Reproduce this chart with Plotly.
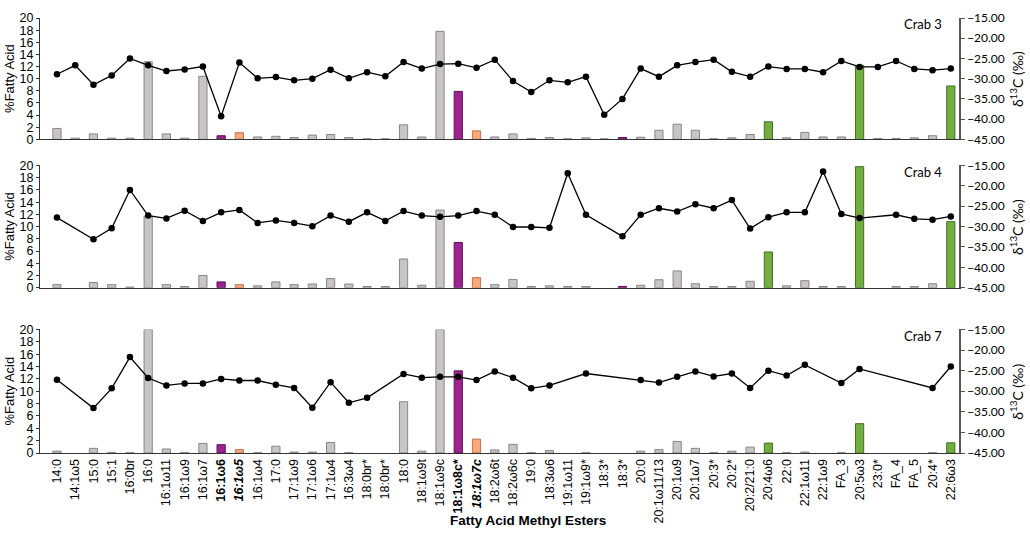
import plotly.graph_objects as go

# 脂肪酸甲酯类别（有重复名称，所以用位置作为 x）
categories = ['14:0', '14:1ω5', '15:0', '15:1', '16:0br', '16:0', '16:1ω11', '16:1ω9',
              '16:1ω7', '16:1ω6', '16:1ω5', '16:1ω4', '17:0', '17:1ω9', '17:1ω6', '17:1ω4',
              '16:3ω4', '18:0br*', '18:0br*', '18:0', '18:1ω9t', '18:1ω9c', '18:1ω8c*',
              '18:1ω7c', '18:2ω6t', '18:2ω6c', '19:0', '18:3ω6', '19:1ω11', '19:1ω9*',
              '18:3*', '18:3*', '20:0', '20:1ω11/13', '20:1ω9', '20:1ω7', '20:3*', '20:2*',
              '20:2/21:0', '20:4ω6', '22:0', '22:1ω11', '22:1ω9', 'FA_3', '20:5ω3', '23:0*',
              'FA_4', 'FA_5', '20:4*', '22:6ω3']

crabs = ['Crab 3', 'Crab 4', 'Crab 7']

# %Fatty Acid
pct_crab3 = [1.8, 0.2, 0.9, 0.2, 0.2, 12.8, 0.9, 0.2, 10.4, 0.6,
             1.1, 0.4, 0.5, 0.3, 0.7, 0.8, 0.3, 0.1, 0.1, 2.4,
             0.4, 17.8, 7.9, 1.4, 0.4, 0.9, 0.15, 0.3, 0.1, 0.25,
             0.1, 0.3, 0.35, 1.5, 2.5, 1.5, 0.1, 0.25, 0.8, 2.9,
             0.25, 1.15, 0.4, 0.4, 12.2, 0.15, 0.15, 0.25, 0.6, 8.8]
pct_crab4 = [0.5, None, 0.85, 0.5, 0.1, 11.7, 0.5, 0.2, 2.0, 0.95,
             0.5, 0.3, 0.95, 0.5, 0.6, 1.5, 0.6, 0.2, 0.2, 4.7,
             0.4, 12.7, 7.4, 1.65, 0.5, 1.35, 0.2, 0.3, 0.2, 0.2,
             None, 0.2, 0.4, 1.3, 2.75, 0.65, 0.2, 0.2, 1.05, 5.85,
             0.3, 1.15, 0.2, 0.2, 19.8, None, 0.2, 0.2, 0.65, 10.8]
pct_crab7 = [0.3, None, 0.75, 0.1, 0.05, 20.0, 0.65, 0.1, 1.55, 1.35,
             0.55, 0.05, 1.1, 0.15, 0.15, 1.7, 0.05, None, None, 8.3,
             0.3, 20.0, 13.3, 2.25, 0.5, 1.4, 0.05, 0.4, None, 0.05,
             None, None, 0.3, 0.55, 1.85, 0.75, 0.05, 0.3, 0.95, 1.6,
             0.05, 0.15, None, 0.05, 4.75, None, None, None, 0.05, 1.65]

# δ13C (‰)
d13c_crab3 = [-28.9, -26.7, -31.5, -29.2, -25.0, -26.7, -28.1, -27.7, -27.0, -39.3,
              -26.0, -29.9, -29.6, -30.4, -30.0, -27.8, -29.9, -28.4, -29.4, -25.9,
              -27.5, -26.4, -26.3, -27.3, -25.3, -30.6, -33.3, -30.4, -30.9, -29.5,
              -38.9, -35.0, -27.5, -29.5, -26.7, -25.9, -25.3, -28.3, -29.5, -27.0,
              -27.6, -27.6, -28.4, -25.6, -27.1, -27.1, -25.6, -27.6, -27.9, -27.5]
d13c_crab4 = [-27.8, None, -33.1, -30.4, -21.0, -27.3, -28.0, -26.1, -28.6, -26.5,
              -25.9, -29.1, -28.5, -29.1, -29.9, -27.3, -28.8, -26.5, -28.6, -26.2,
              -27.3, -27.6, -27.3, -26.2, -27.1, -30.1, -30.1, -30.3, -16.9, -27.1,
              None, -32.4, -27.1, -25.5, -26.3, -24.5, -25.5, -23.5, -30.5, -27.7,
              -26.5, -26.5, -16.5, -26.9, -27.9, None, -27.1, -28.1, -28.3, -27.5]
d13c_crab7 = [-27.2, None, -34.1, -29.3, -21.7, -26.8, -28.6, -28.1, -28.1, -27.0,
              -27.4, -27.4, -28.4, -29.2, -34.0, -27.8, -32.8, -31.6, None, -25.8,
              -26.7, -26.5, -26.5, -27.3, -25.2, -26.7, -29.3, -28.6, None, -25.7,
              None, None, -27.3, -27.9, -26.5, -25.2, -26.4, -25.7, -29.2, -25.0,
              -26.2, -23.6, None, -28.0, -24.6, None, None, None, -29.2, -24.0]

pct_all = [pct_crab3, pct_crab4, pct_crab7]
d13c_all = [d13c_crab3, d13c_crab4, d13c_crab7]

# 柱子颜色：默认灰色，部分脂肪酸高亮
GREY = ('#c9c5c6', '#8a8686')
PURPLE = ('#9d2391', '#5e0f57')
ORANGE = ('#f8a878', '#c07650')
GREEN = ('#72ad40', '#467026')
highlight = {9: PURPLE, 22: PURPLE, 31: PURPLE, 10: ORANGE, 23: ORANGE,
             39: GREEN, 44: GREEN, 49: GREEN}
fills = [highlight.get(i, GREY)[0] for i in range(len(categories))]
edges = [highlight.get(i, GREY)[1] for i in range(len(categories))]

# 刻度文字，部分加粗/斜体
ticktext = []
for i, c in enumerate(categories):
    if i in (9, 22):
        ticktext.append('<b>%s</b>' % c)
    elif i in (10, 23):
        ticktext.append('<b><i>%s</i></b>' % c)
    else:
        ticktext.append(c)

xpos = list(range(len(categories)))
domains = [[0.721, 1.0], [0.380, 0.661], [0.0, 0.284]]

fig = go.Figure()
font_main = 'Liberation Sans, Arial, sans-serif'
font_right = 'Lato, sans-serif'

for k in range(3):
    xa = 'x' if k == 0 else 'x%d' % (k + 1)
    yl = 'y' if k == 0 else 'y%d' % (2 * k + 1)
    yr = 'y%d' % (2 * k + 2)
    fig.add_trace(go.Bar(
        x=xpos, y=pct_all[k], xaxis=xa, yaxis=yl, width=0.45,
        marker=dict(color=fills, line=dict(color=edges, width=1)),
        showlegend=False
    ))
    fig.add_trace(go.Scatter(
        x=xpos, y=d13c_all[k], xaxis=xa, yaxis=yr, mode='lines+markers',
        connectgaps=True,
        line=dict(color='black', width=1.3),
        marker=dict(color='black', size=6.5),
        showlegend=False
    ))

layout = dict(
    width=1030, height=534,
    margin=dict(l=40, r=71, t=10, b=78),
    plot_bgcolor='white', paper_bgcolor='white',
    font=dict(family=font_main, size=13, color='black'),
)

for k in range(3):
    xkey = 'xaxis' if k == 0 else 'xaxis%d' % (k + 1)
    ylkey = 'yaxis' if k == 0 else 'yaxis%d' % (2 * k + 1)
    yrkey = 'yaxis%d' % (2 * k + 2)
    ylname = 'y' if k == 0 else 'y%d' % (2 * k + 1)
    xname = 'x' if k == 0 else 'x%d' % (k + 1)
    last = (k == 2)
    layout[xkey] = dict(
        domain=[0, 1], anchor=ylname, range=[-0.93, 49.45],
        tickmode='array', tickvals=xpos, ticktext=ticktext,
        showticklabels=last, tickangle=-90, tickfont=dict(size=12.5),
        showline=True, linecolor='#333333', linewidth=1.2,
        ticks='', showgrid=False, zeroline=False
    )
    layout[ylkey] = dict(
        domain=domains[k], anchor=xname, range=[0, 20], dtick=2,
        showline=True, linecolor='#333333', linewidth=1.2,
        ticks='outside', ticklen=3, tickcolor='#333333',
        tickfont=dict(size=12.5), showgrid=False, zeroline=False
    )
    layout[yrkey] = dict(
        overlaying=ylname, side='right', anchor=xname, range=[-45, -15], dtick=5,
        tickformat='.2f', showline=True, linecolor='#555555', linewidth=1.5,
        ticks='outside', ticklen=4, tickcolor='#555555',
        tickfont=dict(size=12, family=font_right),
        showgrid=False, zeroline=False
    )

fig.update_layout(**layout)

for k in range(3):
    xname = 'x' if k == 0 else 'x%d' % (k + 1)
    ylname = 'y' if k == 0 else 'y%d' % (2 * k + 1)
    # 面板标签
    fig.add_annotation(
        text=crabs[k], xref=xname + ' domain', yref=ylname + ' domain',
        x=0.984, y=0.95, xanchor='right', yanchor='middle', showarrow=False,
        font=dict(size=13, family=font_right)
    )
    # 左轴标题
    fig.add_annotation(
        text='%Fatty Acid', xref='paper', yref=ylname + ' domain',
        x=-0.0335, y=0.5, xanchor='center', yanchor='middle', textangle=-90,
        showarrow=False, font=dict(size=13)
    )
    # 右轴标题
    fig.add_annotation(
        text='δ<sup>13</sup>C (‰)', xref='paper', yref=ylname + ' domain',
        x=1.0625, y=0.5, xanchor='center', yanchor='middle', textangle=-90,
        showarrow=False, font=dict(size=14, family=font_right)
    )

# x 轴标题
fig.add_annotation(
    text='<b>Fatty Acid Methyl Esters</b>', xref='paper', yref='paper',
    x=0.531, y=-0.156, xanchor='center', yanchor='middle', showarrow=False,
    font=dict(size=13.5)
)

# 去掉页面默认边距，让图正好占满窗口；不显示工具栏
fig.write_html('out.html', config={'displayModeBar': False},
               post_script="document.body.style.margin='0px';")
